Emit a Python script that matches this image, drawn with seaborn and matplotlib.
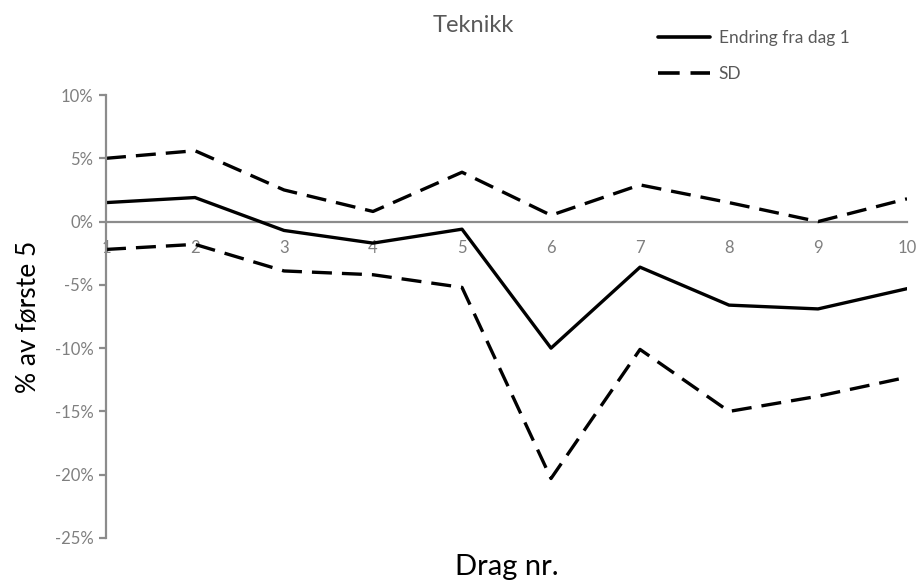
import matplotlib
matplotlib.use("Agg")
import matplotlib.pyplot as plt
from matplotlib.lines import Line2D
import seaborn as sns
import pandas as pd

# Drag number and percent change relative to the first five drags
drag = [1, 2, 3, 4, 5, 6, 7, 8, 9, 10]
endring = [1.5, 1.9, -0.7, -1.7, -0.6, -10.0, -3.6, -6.6, -6.9, -5.3]
sd_upper = [5.0, 5.6, 2.5, 0.8, 3.9, 0.5, 2.9, 1.5, 0.0, 1.8]
sd_lower = [-2.2, -1.8, -3.9, -4.2, -5.2, -20.3, -10.1, -15.0, -13.8, -12.3]
y_ticks = [10, 5, 0, -5, -10, -15, -20, -25]

sns.set_theme(style="white")
plt.rcParams["font.family"] = ["Lato", "DejaVu Sans"]

grey = "#7f7f7f"
axis_grey = "#8c8c8c"

df = pd.DataFrame({"drag": drag, "endring": endring,
                   "sd_upper": sd_upper, "sd_lower": sd_lower})

fig = plt.figure(figsize=(9.2, 5.83), dpi=100)
ax = fig.add_axes([0.1152, 0.0772, 0.8707, 0.7598])

dash = (0, (6, 3))
sns.lineplot(data=df, x="drag", y="sd_upper", ax=ax, color="black",
             linewidth=2.4, linestyle=dash)
sns.lineplot(data=df, x="drag", y="sd_lower", ax=ax, color="black",
             linewidth=2.4, linestyle=dash)
sns.lineplot(data=df, x="drag", y="endring", ax=ax, color="black",
             linewidth=2.4)

ax.set_xlim(1, 10)
ax.set_ylim(-25, 10)
ax.set_yticks(y_ticks)
ax.set_yticklabels([f"{t}%" for t in y_ticks])
ax.set_xticks(drag)
ax.set_xticklabels([str(d) for d in drag])

for side in ("top", "right"):
    ax.spines[side].set_visible(False)
ax.spines["left"].set_color(axis_grey)
ax.spines["left"].set_linewidth(1.6)
ax.spines["bottom"].set_position(("data", 0))
ax.spines["bottom"].set_color(axis_grey)
ax.spines["bottom"].set_linewidth(1.6)
ax.spines["bottom"].set_zorder(1)

ax.tick_params(axis="y", left=True, length=5, width=1.6, color=axis_grey,
               labelsize=12, labelcolor=grey, pad=4)
ax.tick_params(axis="x", bottom=False, length=0, labelsize=12,
               labelcolor=grey, pad=13)

ax.set_xlabel("")
ax.set_ylabel("% av første 5", fontsize=19, color="black", labelpad=10)
fig.text(0.551, 0.0137, "Drag nr.", fontsize=21, color="black",
         ha="center", va="baseline")
fig.text(0.515, 0.957, "Teknikk", fontsize=17, color="#595959",
         ha="center", va="center")

handles = [Line2D([], [], color="black", linewidth=2.6),
           Line2D([], [], color="black", linewidth=2.6, linestyle=dash)]
leg = fig.legend(handles, ["Endring fra dag 1", "SD"], loc="upper left",
                 bbox_to_anchor=(0.715, 0.949), frameon=False, fontsize=12.5,
                 borderpad=0, borderaxespad=0, handlelength=3.0,
                 handletextpad=0.5, labelspacing=1.18)
for t in leg.get_texts():
    t.set_color("#595959")

fig.savefig("out.png", dpi=100)
